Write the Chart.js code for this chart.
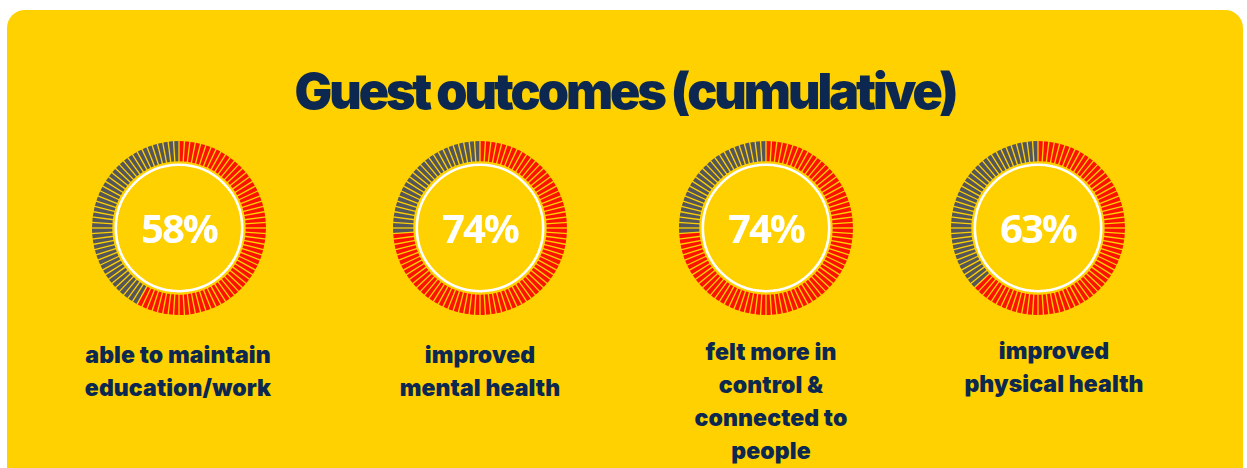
<!DOCTYPE html>
<html>
<head>
<meta charset="utf-8">
<script src="https://cdn.jsdelivr.net/npm/chart.js@4"></script>
<style>
  body { margin: 0; background: #fff; width: 1247px; height: 468px; overflow: hidden; position: relative; }
  .card { position: absolute; left: 7px; top: 10px; width: 1236px; height: 480px; background: #ffd100; border-radius: 18px; }
  .title { position: absolute; left: 0; width: 1250px; top: 61px; text-align: center; font-family: Inter, sans-serif; font-weight: 900; font-size: 50px; letter-spacing: -3px; color: #0c2850; }
  .donut { position: absolute; width: 180px; height: 180px; }
  .pct { position: absolute; width: 180px; text-align: center; font-family: "Open Sans", sans-serif; font-weight: 700; font-size: 40px; color: #fff; letter-spacing: -2px; }
  .label { position: absolute; width: 260px; text-align: center; font-family: Inter, sans-serif; font-weight: 900; font-size: 23px; line-height: 33px; color: #0c2850; letter-spacing: 0.1px; }
</style>
</head>
<body>
<div class="card"></div>
<div class="title">Guest outcomes (cumulative)</div>
<div id="wrap"></div>
<script>
  const outcomes = ['able to maintain\neducation/work', 'improved\nmental health', 'felt more in\ncontrol &\nconnected to\npeople', 'improved\nphysical health'];
  const percentages = [58, 74, 74, 63];

  const donutCentersX = [179, 480, 766, 1038];
  const labelCentersX = [178, 480, 771, 1054];
  const labelTops = [339, 339, 336, 335];
  const donutCenterY = 228;
  const segmentCount = 100;

  const RED = '#fb1200';
  const GREY = '#54565a';
  const YELLOW = '#ffd100';

  // draws the thin yellow gaps between segments and the white inner ring
  const ringDecor = {
    id: 'ringDecor',
    afterDatasetsDraw(chart) {
      const arc = chart.getDatasetMeta(0).data[0];
      if (!arc) return;
      const { x, y, innerRadius, outerRadius } = arc;
      const ctx = chart.ctx;
      ctx.save();
      ctx.strokeStyle = YELLOW;
      ctx.lineWidth = 1.3;
      for (let i = 0; i < segmentCount; i++) {
        const a = -Math.PI / 2 + i * 2 * Math.PI / segmentCount;
        ctx.beginPath();
        ctx.moveTo(x + Math.cos(a) * (innerRadius - 1), y + Math.sin(a) * (innerRadius - 1));
        ctx.lineTo(x + Math.cos(a) * (outerRadius + 1), y + Math.sin(a) * (outerRadius + 1));
        ctx.stroke();
      }
      ctx.strokeStyle = '#fff';
      ctx.lineWidth = 2.6;
      ctx.beginPath();
      ctx.arc(x, y, innerRadius - 3.5, 0, Math.PI * 2);
      ctx.stroke();
      ctx.restore();
    }
  };

  const wrap = document.getElementById('wrap');

  percentages.forEach((pct, i) => {
    const canvas = document.createElement('canvas');
    canvas.className = 'donut';
    canvas.width = 180;
    canvas.height = 180;
    canvas.style.left = (donutCentersX[i] - 90) + 'px';
    canvas.style.top = (donutCenterY - 90) + 'px';
    wrap.appendChild(canvas);

    new Chart(canvas.getContext('2d'), {
      type: 'doughnut',
      data: {
        labels: ['yes', 'no'],
        datasets: [{
          data: [pct, 100 - pct],
          backgroundColor: [RED, GREY],
          borderWidth: 0,
        }]
      },
      options: {
        responsive: false,
        animation: false,
        events: [],
        radius: 87,
        cutout: 69,
        layout: { padding: 0 },
        plugins: { legend: { display: false }, tooltip: { enabled: false } }
      },
      plugins: [ringDecor]
    });

    const pctEl = document.createElement('div');
    pctEl.className = 'pct';
    pctEl.textContent = pct + '%';
    pctEl.style.left = (donutCentersX[i] - 90) + 'px';
    pctEl.style.top = (donutCenterY - 28) + 'px';
    wrap.appendChild(pctEl);

    const lab = document.createElement('div');
    lab.className = 'label';
    lab.innerHTML = outcomes[i].split('\n').join('<br>');
    lab.style.left = (labelCentersX[i] - 130) + 'px';
    lab.style.top = labelTops[i] + 'px';
    wrap.appendChild(lab);
  });
</script>
</body>
</html>
